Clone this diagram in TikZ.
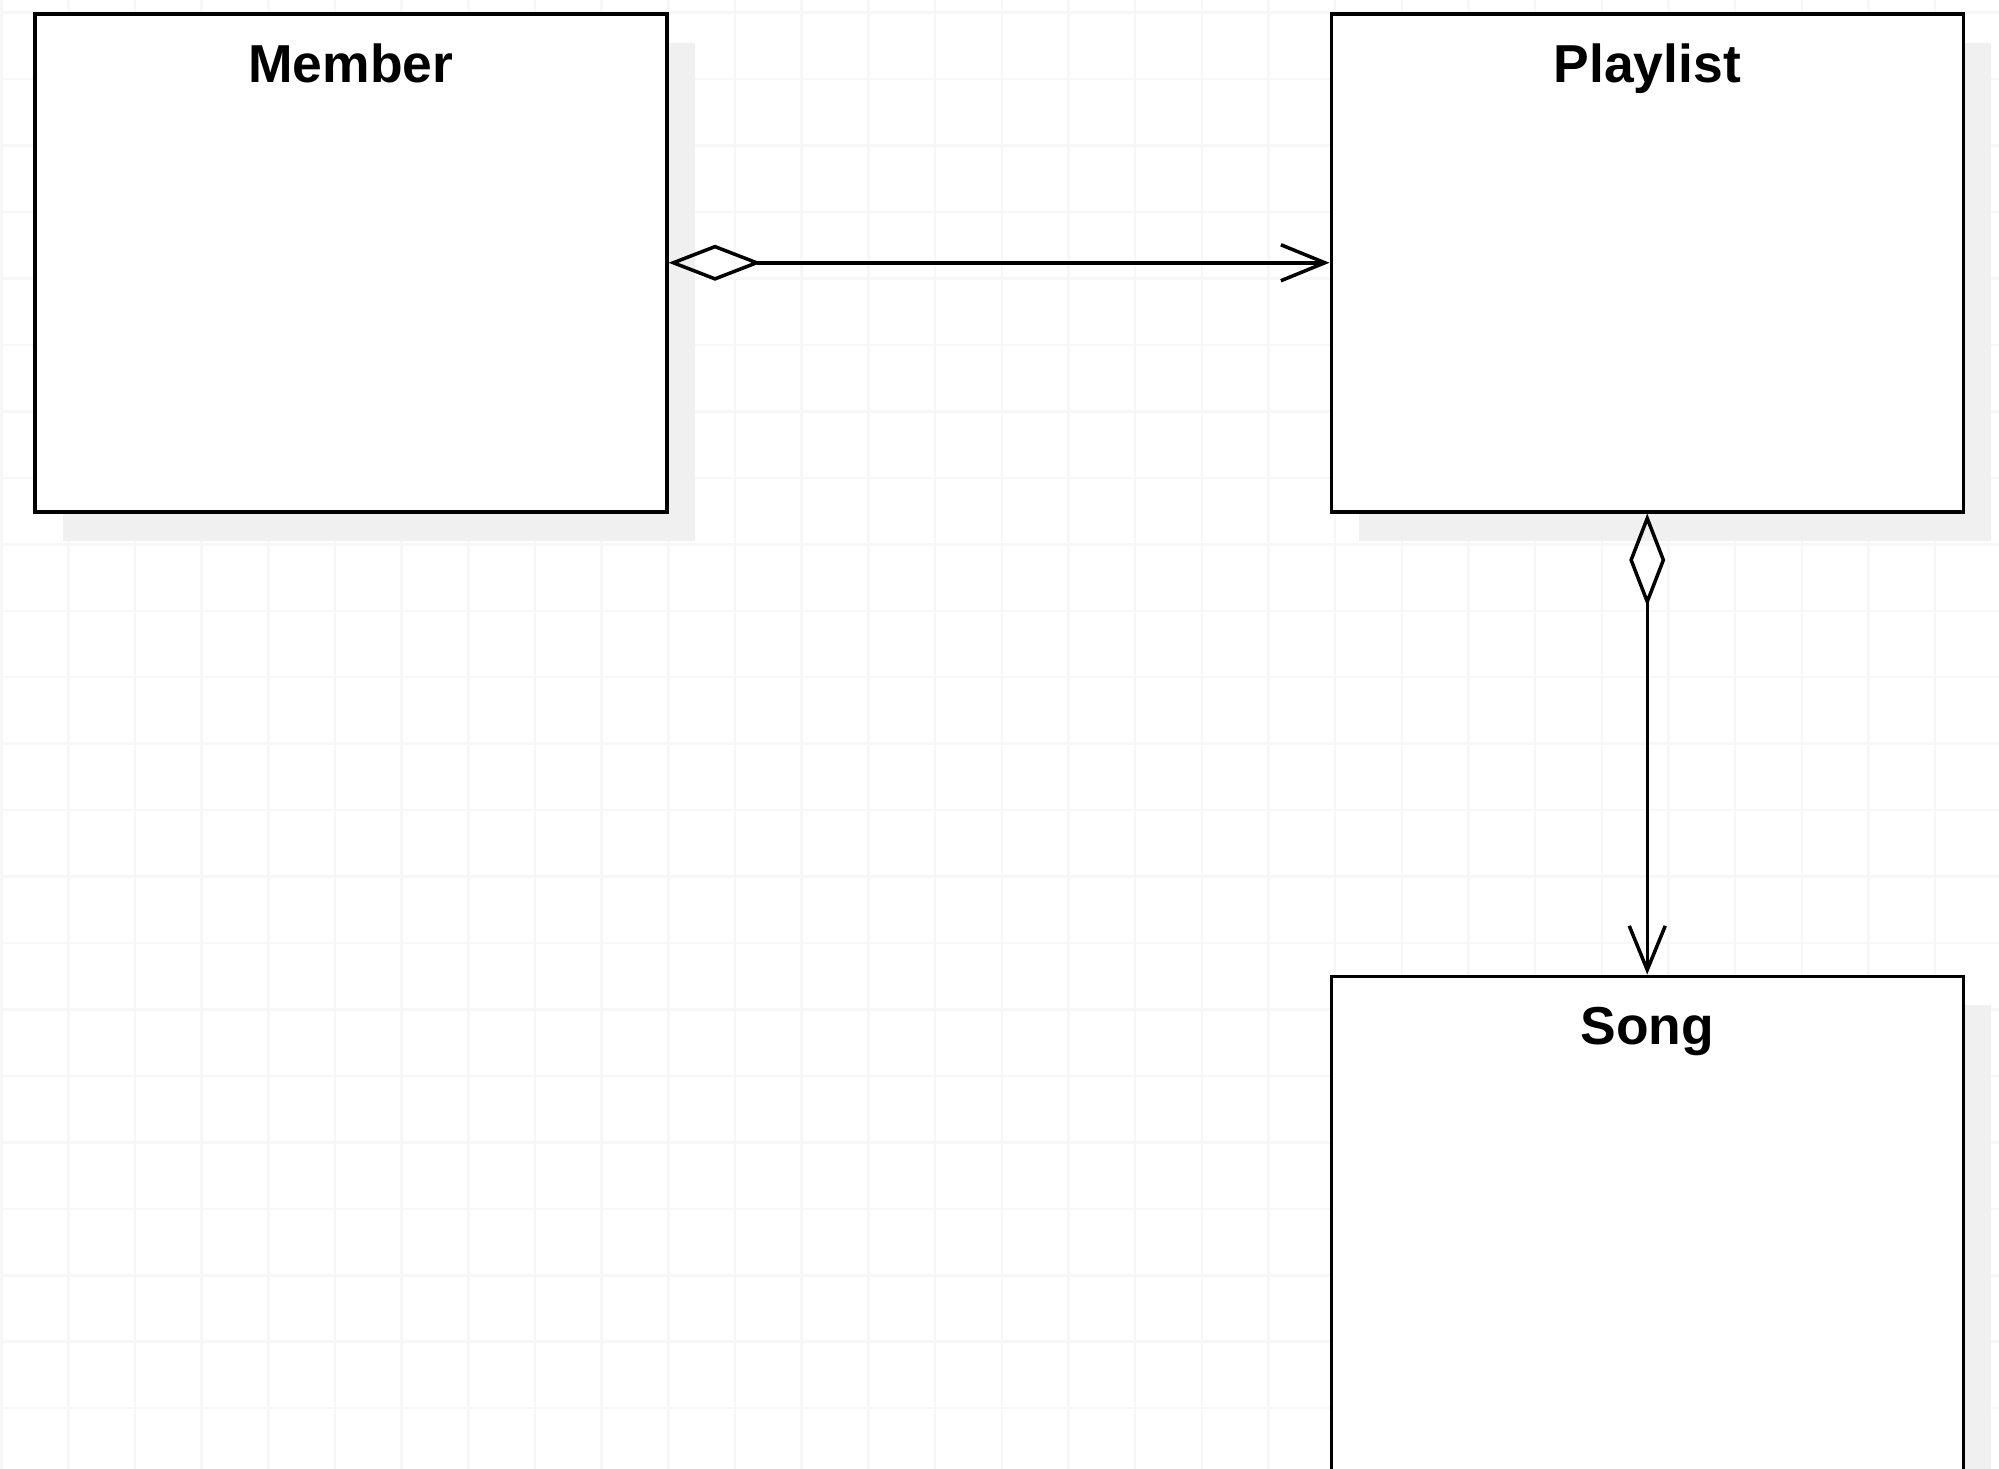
\documentclass[tikz,border=0pt]{standalone}
\usepackage{fontspec}
\newfontfamily\umlfont{Liberation Sans}
\usetikzlibrary{positioning,shadows,arrows.meta}

\tikzset{
  classbox/.style={draw=black, line width=0.035cm, fill=white,
    minimum width=6.32cm, minimum height=4.98cm, anchor=north west,
    drop shadow={shadow xshift=0.28cm, shadow yshift=-0.29cm, fill=black!6, opacity=1}},
  classname/.style={font=\umlfont\bfseries\fontsize{15.2}{18}\selectfont, anchor=base, inner sep=0pt},
  aggregation/.style={line width=0.035cm,
    {Diamond[open, length=0.93cm, width=0.36cm, line width=0.035cm]}-{Straight Barb[length=0.44cm, width=0.36cm, line width=0.035cm]}}
}

\begin{document}
\begin{tikzpicture}

  \useasboundingbox (0,0) rectangle (19.99,-14.69);
  \clip (0,0) rectangle (19.99,-14.69);

  % ---------- background grid ----------
  \foreach \i in {0,...,30}{
    \draw[black!3, line width=0.025cm] (0.017+0.6667*\i,0) -- (0.017+0.6667*\i,-14.69);
  }
  \foreach \j in {0,...,22}{
    \draw[black!3, line width=0.025cm] (0,-0.127-0.6645*\j) -- (19.99,-0.127-0.6645*\j);
  }

  % ---------- classes ----------
  \node[classbox] (member) at (0.33,-0.12) {};
  \node[classbox, right=6.61cm of member] (playlist) {};
  \node[classbox, below=4.61cm of playlist, minimum height=5.6cm] (song) {};

  \node[classname] (membername)   at ([yshift=-0.70cm]member.north)   {Member};
  \node[classname] (playlistname) at ([yshift=-0.70cm]playlist.north) {Playlist};
  \node[classname] (songname)     at ([yshift=-0.70cm]song.north)     {Song};

  % ---------- associations ----------
  \draw[aggregation] (member.east) -- (playlist.west);
  \draw[aggregation] (playlist.south) -- (song.north);

\end{tikzpicture}
\end{document}
